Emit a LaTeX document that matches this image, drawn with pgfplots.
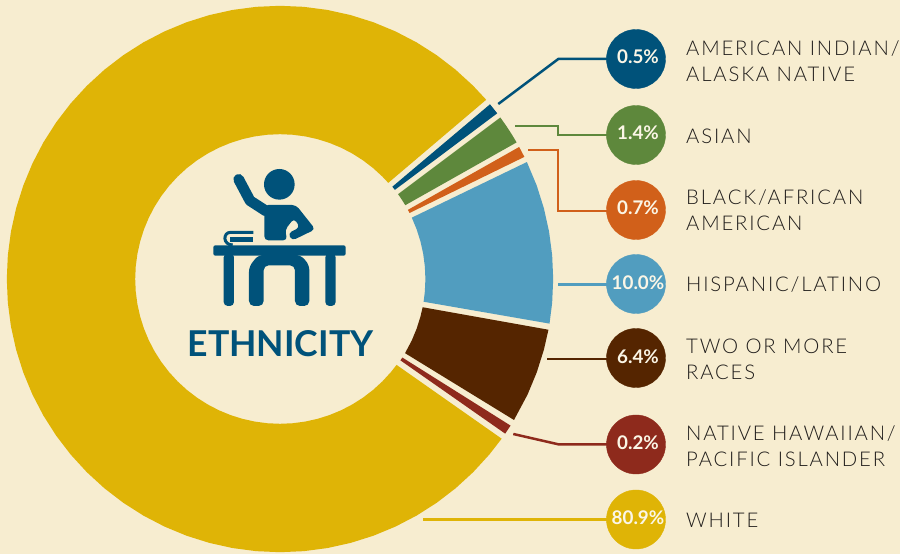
\documentclass[border=0pt]{standalone}
\usepackage{pgfplots}
\pgfplotsset{compat=1.18}
\usepackage{fontspec}
\setmainfont{Lato}
\newfontfamily\labelfont[LetterSpace=9,UprightFont=* Light]{Lato}
\definecolor{bg}{HTML}{F7EDD0}
\definecolor{cyellow}{HTML}{DFB406}
\definecolor{cnavy}{HTML}{00527A}
\definecolor{cgreen}{HTML}{5E883C}
\definecolor{corange}{HTML}{D1601A}
\definecolor{cblue}{HTML}{519DBF}
\definecolor{cbrown}{HTML}{552500}
\definecolor{cred}{HTML}{8E2A1C}
\definecolor{ctext}{HTML}{201D1B}
\definecolor{cwhite}{HTML}{FBF6E6}
\begin{document}
\begin{tikzpicture}
\begin{axis}[
  at={(0pt,0pt)},anchor=south west,
  scale only axis,width=900pt,height=554pt,
  xmin=-280,xmax=620,ymin=-275,ymax=279,
  axis lines=none,ticks=none,
  axis background/.style={fill=bg},
  clip=true]
% white
\addplot[fill=cyellow,draw=none,data cs=polar] coordinates {
(41,273.2)(45,273.2)(50,273.2)(55,273.2)(60,273.2)(65,273.2)(70,273.2)(75,273.2)(80,273.2)(85,273.2)
(90,273.2)(95,273.2)(100,273.2)(105,273.2)(110,273.2)(115,273.2)(120,273.2)(125,273.2)(130,273.2)(135,273.2)
(140,273.2)(145,273.2)(150,273.2)(155,273.2)(160,273.2)(165,273.2)(170,273.2)(175,273.2)(180,273.2)(185,273.2)
(190,273.2)(195,273.2)(200,273.2)(205,273.2)(210,273.2)(215,273.2)(220,273.2)(225,273.2)(230,273.2)(235,273.2)
(240,273.2)(245,273.2)(250,273.2)(255,273.2)(260,273.2)(265,273.2)(270,273.2)(275,273.2)(280,273.2)(285,273.2)
(290,273.2)(295,273.2)(300,273.2)(305,273.2)(310,273.2)(315,273.2)(320,273.2)(324.23,273.2)
(323.61,144.8)(320,144.8)(315,144.8)(310,144.8)(305,144.8)(300,144.8)(295,144.8)(290,144.8)
(285,144.8)(280,144.8)(275,144.8)(270,144.8)(265,144.8)(260,144.8)(255,144.8)(250,144.8)(245,144.8)(240,144.8)
(235,144.8)(230,144.8)(225,144.8)(220,144.8)(215,144.8)(210,144.8)(205,144.8)(200,144.8)(195,144.8)(190,144.8)
(185,144.8)(180,144.8)(175,144.8)(170,144.8)(165,144.8)(160,144.8)(155,144.8)(150,144.8)(145,144.8)(140,144.8)
(135,144.8)(130,144.8)(125,144.8)(120,144.8)(115,144.8)(110,144.8)(105,144.8)(100,144.8)(95,144.8)(90,144.8)
(85,144.8)(80,144.8)(75,144.8)(70,144.8)(65,144.8)(60,144.8)(55,144.8)(50,144.8)(45,144.8)(41.6,144.8)
} --cycle;
% american indian
\addplot[fill=cnavy,draw=none,data cs=polar] coordinates {(39.76,273.2)(37.33,273.2)(37.8,145.4)(39.4,145.4)} --cycle;
% asian
\addplot[fill=cgreen,draw=none,data cs=polar] coordinates {(36.25,273.2)(34,273.2)(32,273.2)(30,273.2)(30.5,145.4)(33,145.4)(35.7,145.4)} --cycle;
% black
\addplot[fill=corange,draw=none,data cs=polar] coordinates {(28.9,273.2)(26.55,273.2)(27,145.4)(28.4,145.4)} --cycle;
% hispanic
\addplot[fill=cblue,draw=none,data cs=polar] coordinates {(25.35,273.2)(20,273.2)(15,273.2)(10,273.2)(5,273.2)(0,273.2)(-5,273.2)(-9.4,273.2)
(-9,145.4)(-5,145.4)(0,145.4)(5,145.4)(10,145.4)(15,145.4)(20,145.4)(24.96,145.4)} --cycle;
% two or more
\addplot[fill=cbrown,draw=none,data cs=polar] coordinates {(-10.7,273.2)(-15,273.2)(-20,273.2)(-25,273.2)(-31.07,273.2)
(-30.67,145.4)(-25,145.4)(-20,145.4)(-15,145.4)(-11.2,145.4)} --cycle;
% native hawaiian
\addplot[fill=cred,draw=none,data cs=polar] coordinates {(-32.45,273.2)(-34.48,273.2)(-34.05,145.4)(-32.7,145.4)} --cycle;
% leaders
\addplot[cnavy,line width=2.5pt,line join=miter] coordinates {(218.3,175)(278.3,220)(340,220)};
\addplot[cgreen,line width=2.2pt,line join=miter] coordinates {(235,153)(278.3,153)(278.3,143.7)(340,143.7)};
\addplot[corange,line width=2.2pt,line join=miter] coordinates {(248.3,129)(278.3,129)(278.3,68.2)(340,68.2)};
\addplot[cblue,line width=2.5pt] coordinates {(278.3,-5.3)(340,-5.3)};
\addplot[cbrown,line width=2.5pt] coordinates {(267.3,-80)(340,-80)};
\addplot[cred,line width=2.5pt,line join=miter] coordinates {(233.3,-155)(278.3,-165.3)(340,-165.3)};
\addplot[cyellow,line width=2.5pt] coordinates {(143.3,-240.3)(340,-240.3)};
% value circles
\addplot[only marks,mark=*,mark size=29.5pt,color=cnavy] coordinates {(356,220)};
\addplot[only marks,mark=*,mark size=29.5pt,color=cgreen] coordinates {(356,144)};
\addplot[only marks,mark=*,mark size=29.5pt,color=corange] coordinates {(356,69)};
\addplot[only marks,mark=*,mark size=29.5pt,color=cblue] coordinates {(356,-5)};
\addplot[only marks,mark=*,mark size=29.5pt,color=cbrown] coordinates {(356,-79)};
\addplot[only marks,mark=*,mark size=29.5pt,color=cred] coordinates {(356,-165.5)};
\addplot[only marks,mark=*,mark size=29.5pt,color=cyellow] coordinates {(356,-240.5)};
\end{axis}
% texts, in pixel coordinates of the reference
\begin{scope}[shift={(0pt,554pt)},x=1pt,y=-1pt]
\foreach \y/\t in {64/0.5\%,140/1.4\%,215/0.7\%,290/10.0\%,364/6.4\%,450/0.2\%,525/80.9\%}
  \node[anchor=base,inner sep=0pt,text=cwhite,font=\fontsize{18.8}{22}\selectfont\bfseries] at (638,\y) {\t};
\foreach \y/\t in {56/{AMERICAN INDIAN/},82/{ALASKA NATIVE},144/{ASIAN},205/{BLACK/AFRICAN},231/{AMERICAN},292/{HISPANIC/LATINO},354/{TWO OR MORE},380/{RACES},441/{NATIVE HAWAIIAN/},467/{PACIFIC ISLANDER},528/{WHITE}}
  \node[anchor=base west,inner sep=0pt,text=ctext,font=\labelfont\fontsize{20.3}{24}\selectfont] at (686,\y) {\t};
\node[anchor=base,inner sep=0pt,text=cnavy,font=\fontsize{35.6}{40}\selectfont\bfseries] at (280.5,356.5) {ETHNICITY};
\end{scope}
% pupil icon, in units of 1/3 px
\begin{scope}[shift={(170pt,404pt)},x=0.3333pt,y=-0.3333pt,cnavy]
\fill (328,103) circle[radius=46];
\draw[line width=10.7pt,line cap=round,line join=round] (206,88)--(240,152)--(288,183);
\fill[rounded corners=4pt] (283,165)--(378,165)--(436,238)--(366,272)--(354,250)--(390,232)--(372,205)--(345,240)--(352,271)--(283,271)--cycle;
\fill[rounded corners=2pt] (130,286) rectangle (527,317);
\fill[rounded corners=4pt] (161,310) rectangle (192,468);
\fill[rounded corners=4pt] (466,310) rectangle (497,468);
\fill[rounded corners=5pt] (265,315)--(237,350)--(237,468)--(281,468)--(281,346)--(375,346)--(375,468)--(418,468)--(418,345)--(392,315)--cycle;
\draw[line width=3pt] (250,247)--(182,247) .. controls (158,247) and (158,285) .. (188,285);
\fill (180,260) rectangle (250,275);
\end{scope}
\end{tikzpicture}
\end{document}
